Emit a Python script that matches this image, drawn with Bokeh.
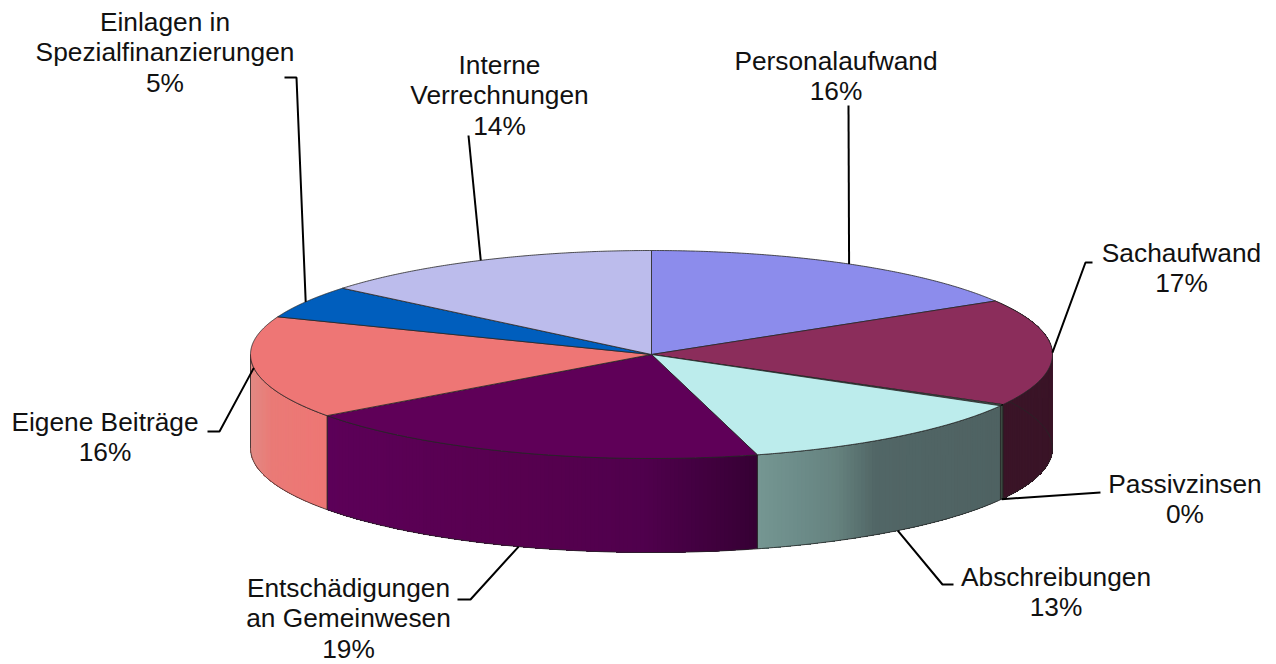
import numpy as np
from bokeh.plotting import figure
from bokeh.models import Range1d
from bokeh.core.properties import value
from bokeh.embed import file_html
from bokeh.resources import INLINE

# ---- data ----
names = ["Personalaufwand", "Sachaufwand", "Passivzinsen", "Abschreibungen",
         "Entschädigungen\nan Gemeinwesen", "Eigene Beiträge",
         "Einlagen in\nSpezialfinanzierungen", "Interne\nVerrechnungen"]
shares = [16.4, 16.6, 0.2, 12.55, 19.25, 15.9, 5.1, 14.0]
top_colors = ["#8C8CEC", "#8B2D5B", "#4A6058", "#BCECEC", "#5F0058", "#EE7675", "#005EBD", "#BCBCEC"]

# ---- pie geometry / style ----
CX, CY, RX, RY, DEPTH = 651.0, 354.0, 401.0, 104.0, 94.0
EDGE = "#262626"
side_stops = {
    1: [(1000, "#3A1427"), (1052, "#3A1427")],
    2: [(998, "#3A4A40"), (1004, "#3A4A40")],
    3: [(757, "#759692"), (800, "#6C8C89"), (835, "#66837F"), (875, "#516666"), (1001, "#4F6262")],
    4: [(327, "#5C0058"), (520, "#57004F"), (640, "#50004D"), (757, "#360034")],
    5: [(250, "#E28A84"), (272, "#EA7A76"), (327, "#EE7674")],
}
# (text centre x, first-line y, rim anchor on the lower edge?, elbow points after the pie anchor)
label_layout = [
    (835.5, 60, False, [(848, 105)]),
    (1181, 252.5, False, [(1085, 262), (1092, 262)]),
    (1184.5, 483.5, True, [(1100, 492)]),
    (1055.5, 576.5, True, [(942, 584), (953, 584)]),
    (348, 587.5, True, [(470, 599), (457, 599)]),
    (104.5, 421.5, False, [(219, 431), (207, 431)]),
    (164.5, 21.5, False, [(296, 77), (284, 77)]),
    (499, 64.5, False, [(468, 135)]),
]
LINE_H = 30.3
FONT = value("Liberation Sans")


def hex_rgb(h):
    return np.array([int(h[i:i + 2], 16) for i in (1, 3, 5)], dtype=float)


def grad(stops, x):
    xs = [s[0] for s in stops]
    cs = np.array([hex_rgb(s[1]) for s in stops])
    r, g, b = [np.interp(x, xs, cs[:, k]) for k in range(3)]
    return "#%02X%02X%02X" % (round(r), round(g), round(b))


def px(theta):
    return CX + RX * np.sin(theta)


def py(theta):
    return CY - RY * np.cos(theta)


p = figure(width=1276, height=664, output_backend="svg", toolbar_location=None,
           x_range=Range1d(0, 1276), y_range=Range1d(664, 0), min_border=0,
           outline_line_color=None, background_fill_color="white")
p.axis.visible = False
p.grid.visible = False

edges = np.radians(np.concatenate([[0], np.cumsum(shares)]) / sum(shares) * 360.0)

# side faces (only the front half of the rim is visible); each strip runs on to the
# end of its slice and the next one paints over it, so no seams show
for i, stops in side_stops.items():
    a0, a1 = edges[i], min(edges[i + 1], np.pi * 1.5)
    n = max(2, int(np.degrees(a1 - a0) / 0.6))
    th = np.linspace(a0, a1, n + 1)
    xs, ys, cols = [], [], []
    for k in range(n):
        t = th[k:]
        xs.append(np.concatenate([px(t), px(t[::-1])]))
        ys.append(np.concatenate([py(t), py(t[::-1]) + DEPTH]))
        cols.append(grad(stops, (px(th[k]) + px(th[k + 1])) / 2))
    p.patches(xs, ys, fill_color=cols, line_color=None)
    ox = np.concatenate([px(th), px(th[::-1]), [px(th[0])]])
    oy = np.concatenate([py(th), py(th[::-1]) + DEPTH, [py(th[0])]])
    p.line(ox, oy, line_color=EDGE, line_width=0.8)

# top faces
for i, col in enumerate(top_colors):
    arc = np.linspace(edges[i], edges[i + 1], 160)
    p.patch(np.concatenate([[CX], px(arc)]), np.concatenate([[CY], py(arc)]),
            fill_color=col, line_color=EDGE, line_width=0.8, line_join="round")

# leaders and labels
for i, name in enumerate(names):
    mid = (edges[i] + edges[i + 1]) / 2
    tx, ty, lower, elbow = label_layout[i]
    ax, ay = px(mid), py(mid) + (DEPTH if lower else 0)
    p.line([ax] + [e[0] for e in elbow], [ay] + [e[1] for e in elbow],
           line_color="#000000", line_width=2)
    lines = name.split("\n") + ["%d%%" % round(shares[i])]
    p.text([tx] * len(lines), [ty + k * LINE_H for k in range(len(lines))], text=lines,
           text_font=FONT, text_font_size="26.3px", text_color="#111111",
           text_align="center", text_baseline="middle")

open("out.html", "w").write(file_html(p, INLINE))
